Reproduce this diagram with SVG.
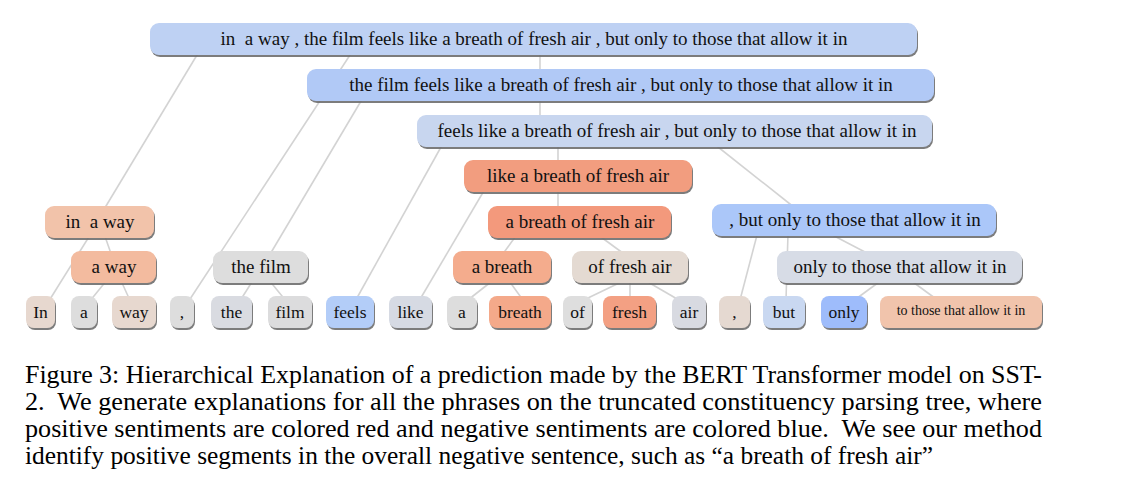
<svg xmlns="http://www.w3.org/2000/svg" width="1129" height="501" viewBox="0 0 1129 501">
<defs>
<filter id="sh" x="-10%" y="-30%" width="120%" height="170%">
<feDropShadow dx="1" dy="2" stdDeviation="0.7" flood-color="#6e6e6e" flood-opacity="0.9"/>
</filter>
<style>
.n rect{filter:url(#sh);}
.n text{font-family:"Liberation Serif","Times New Roman",serif;fill:#111;text-anchor:middle;}
.i text{font-size:19px;}
.l text{font-size:17.5px;}
.e line{stroke:#d3d3d3;stroke-width:1.6;}
.cap{font-family:"Liberation Serif","Times New Roman",serif;font-size:24.5px;fill:#000;}
</style>
</defs>
<rect width="1129" height="501" fill="#fff"/>
<g id="edges" class="e">
<line x1="200" y1="50" x2="103" y2="211"/>
<line x1="353.3" y1="50" x2="189.4" y2="300"/>
<line x1="540" y1="50" x2="540" y2="74"/>
<line x1="364" y1="96" x2="269.6" y2="255"/>
<line x1="540" y1="96" x2="540" y2="120"/>
<line x1="443.8" y1="142" x2="355.8" y2="300"/>
<line x1="558" y1="142" x2="558" y2="165"/>
<line x1="711.7" y1="142" x2="795" y2="208"/>
<line x1="90.1" y1="235" x2="49.5" y2="300"/>
<line x1="104.5" y1="235" x2="111.5" y2="255"/>
<line x1="107" y1="280" x2="90.7" y2="300"/>
<line x1="120.7" y1="280" x2="129.8" y2="300"/>
<line x1="253.2" y1="280" x2="240.5" y2="300"/>
<line x1="268.9" y1="280" x2="285.3" y2="300"/>
<line x1="485" y1="189" x2="419.6" y2="300"/>
<line x1="558" y1="189" x2="558" y2="211"/>
<line x1="516.6" y1="235" x2="502.1" y2="255"/>
<line x1="598.2" y1="235" x2="625.5" y2="255"/>
<line x1="493.4" y1="280" x2="467.9" y2="300"/>
<line x1="508.4" y1="280" x2="522.9" y2="300"/>
<line x1="625.4" y1="280" x2="583.8" y2="300"/>
<line x1="630" y1="280" x2="630" y2="300"/>
<line x1="644.4" y1="280" x2="678.9" y2="300"/>
<line x1="757.3" y1="234" x2="740" y2="300"/>
<line x1="788" y1="234" x2="786" y2="300"/>
<line x1="830.4" y1="234" x2="870.7" y2="255"/>
<line x1="881.8" y1="280" x2="854.5" y2="300"/>
<line x1="910.2" y1="280" x2="937.5" y2="300"/>
</g>
<g id="n-root" class="n i"><rect x="150" y="23" width="767" height="32" rx="9" fill="#bed1f3"/><text x="534" y="45" xml:space="preserve">in  a way , the film feels like a breath of fresh air , but only to those that allow it in</text></g>
<g id="n-thefilm-all" class="n i"><rect x="307" y="69" width="627" height="32" rx="9" fill="#b1c9f6"/><text x="621" y="91">the film feels like a breath of fresh air , but only to those that allow it in</text></g>
<g id="n-feels-all" class="n i"><rect x="417" y="115" width="515" height="32" rx="9" fill="#c8d6ef"/><text x="677" y="137">feels like a breath of fresh air , but only to those that allow it in</text></g>
<g id="n-like" class="n i"><rect x="464" y="160" width="228" height="32" rx="9" fill="#f29d7f"/><text x="578" y="182">like a breath of fresh air</text></g>
<g id="n-abofa" class="n i"><rect x="488" y="206" width="183" height="32" rx="9" fill="#f3997b"/><text x="580" y="228">a breath of fresh air</text></g>
<g id="n-but-all" class="n i"><rect x="712" y="204" width="284" height="32" rx="9" fill="#abc7f9"/><text x="855" y="226">, but only to those that allow it in</text></g>
<g id="n-inaway" class="n i"><rect x="45" y="206" width="109" height="32" rx="9" fill="#f2c3aa"/><text x="100" y="228" xml:space="preserve">in  a way</text></g>
<g id="n-away" class="n i"><rect x="71" y="251" width="85" height="32" rx="9" fill="#f3bb9f"/><text x="114" y="273">a way</text></g>
<g id="n-thefilm" class="n i"><rect x="213" y="251" width="95" height="32" rx="9" fill="#dddddd"/><text x="261" y="273">the film</text></g>
<g id="n-abreath" class="n i"><rect x="453" y="251" width="98" height="32" rx="9" fill="#f4ac8d"/><text x="502" y="273">a breath</text></g>
<g id="n-offreshair" class="n i"><rect x="572" y="251" width="116" height="32" rx="9" fill="#e4dad2"/><text x="630" y="273">of fresh air</text></g>
<g id="n-onlyto" class="n i"><rect x="777" y="251" width="245" height="32" rx="9" fill="#d7dce6"/><text x="900" y="273">only to those that allow it in</text></g>
<g id="w-In" class="n l"><rect x="26" y="296" width="29" height="32" rx="8" fill="#e7d8cf"/><text x="40.5" y="318">In</text></g>
<g id="w-a1" class="n l"><rect x="71" y="296" width="26" height="32" rx="8" fill="#dddddd"/><text x="84" y="318">a</text></g>
<g id="w-way" class="n l"><rect x="112" y="296" width="44" height="32" rx="8" fill="#e7d8cf"/><text x="134" y="318">way</text></g>
<g id="w-comma1" class="n l"><rect x="170" y="296" width="24" height="32" rx="8" fill="#dddddd"/><text x="182" y="318">,</text></g>
<g id="w-the" class="n l"><rect x="211" y="296" width="41" height="32" rx="8" fill="#d9dbe1"/><text x="231.5" y="318">the</text></g>
<g id="w-film" class="n l"><rect x="268" y="296" width="44" height="32" rx="8" fill="#dcdcdd"/><text x="290" y="318">film</text></g>
<g id="w-feels" class="n l"><rect x="326" y="296" width="48" height="32" rx="8" fill="#b3cdf8"/><text x="350" y="318">feels</text></g>
<g id="w-like" class="n l"><rect x="389" y="296" width="43" height="32" rx="8" fill="#d6dae3"/><text x="410.5" y="318">like</text></g>
<g id="w-a2" class="n l"><rect x="447" y="296" width="30" height="32" rx="8" fill="#dddddd"/><text x="462" y="318">a</text></g>
<g id="w-breath" class="n l"><rect x="489" y="296" width="62" height="32" rx="8" fill="#f4a98a"/><text x="520" y="318">breath</text></g>
<g id="w-of" class="n l"><rect x="563" y="296" width="29" height="32" rx="8" fill="#dedede"/><text x="577.5" y="318">of</text></g>
<g id="w-fresh" class="n l"><rect x="603" y="296" width="53" height="32" rx="8" fill="#f3a083"/><text x="629.5" y="318">fresh</text></g>
<g id="w-air" class="n l"><rect x="672" y="296" width="34" height="32" rx="8" fill="#d8dae1"/><text x="689" y="318">air</text></g>
<g id="w-comma2" class="n l"><rect x="719" y="296" width="31" height="32" rx="8" fill="#e5d9d1"/><text x="734.5" y="318">,</text></g>
<g id="w-but" class="n l"><rect x="763" y="296" width="42" height="32" rx="8" fill="#c9d8f1"/><text x="784" y="318">but</text></g>
<g id="w-only" class="n l"><rect x="821" y="296" width="46" height="32" rx="8" fill="#9ebcfb"/><text x="844" y="318">only</text></g>
<g id="w-tothose" class="n l"><rect x="880" y="296" width="162" height="32" rx="8" fill="#f1c4ac"/><text x="961" y="315" style="font-size:14px">to those that allow it in</text></g>
<g id="caption">
<text class="cap" x="25" y="383" textLength="1017" lengthAdjust="spacingAndGlyphs">Figure 3: Hierarchical Explanation of a prediction made by the BERT Transformer model on SST-</text>
<text class="cap" x="25" y="410" textLength="1017" lengthAdjust="spacingAndGlyphs" xml:space="preserve">2.  We generate explanations for all the phrases on the truncated constituency parsing tree, where</text>
<text class="cap" x="25" y="437" textLength="1017" lengthAdjust="spacingAndGlyphs" xml:space="preserve">positive sentiments are colored red and negative sentiments are colored blue.  We see our method</text>
<text class="cap" x="25" y="464" textLength="908" lengthAdjust="spacingAndGlyphs">identify positive segments in the overall negative sentence, such as “a breath of fresh air”</text>
</g>
</svg>
